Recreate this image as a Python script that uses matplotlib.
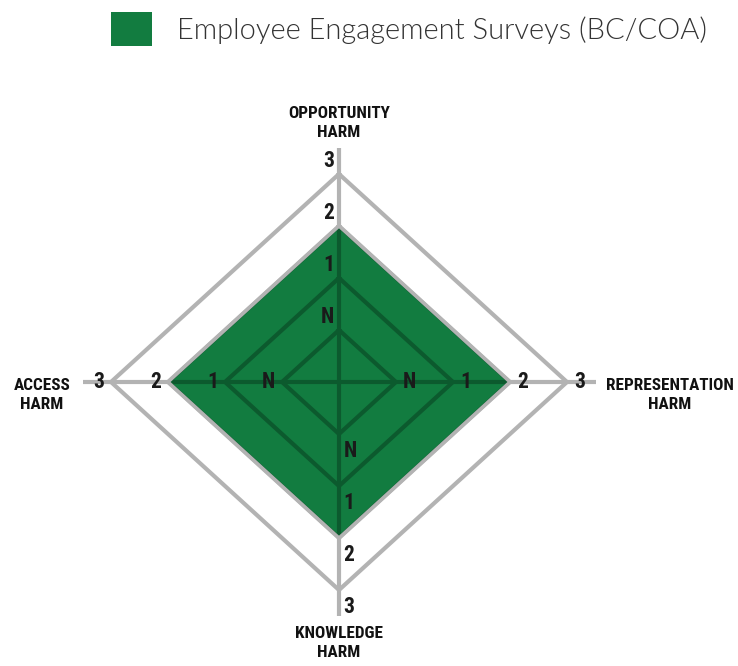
import matplotlib.pyplot as plt
import numpy as np
from matplotlib.patches import Polygon, Patch

# chart data
categories = ['OPPORTUNITY\nHARM', 'REPRESENTATION\nHARM', 'KNOWLEDGE\nHARM', 'ACCESS\nHARM']
level_labels = ['N', '1', '2', '3']
series_name = 'Employee Engagement Surveys (BC/COA)'
series_values = ['2', '2', '2', '2']

green = '#127c40'
dark_green = '#0c5a2e'
grey = '#b3b3b3'
lab_font = ['Roboto Condensed', 'Roboto', 'DejaVu Sans']

# directions: top, right, bottom, left
dirs = np.array([[0, 1], [1, 0], [0, -1], [-1, 0]])

def radius(lbl):
    return level_labels.index(lbl) + 1

fig = plt.figure(figsize=(7.38, 6.66), dpi=100)
ax = fig.add_axes([0, 0, 1, 1])
ax.set_xlim(-339 / 57, (738 - 339) / 57)
ax.set_ylim(-(666 - 382) / 52, 382 / 52)
ax.axis('off')

# spokes
for d in dirs:
    ax.plot([0, d[0] * 4.5], [0, d[1] * 4.5], color=grey, lw=3, zorder=1,
            solid_capstyle='butt')

# grid rings
rings = []
for r in range(1, len(level_labels) + 1):
    pts = dirs * r
    xs = list(pts[:, 0]) + [pts[0, 0]]
    ys = list(pts[:, 1]) + [pts[0, 1]]
    ax.plot(xs, ys, color=grey, lw=3, zorder=1, solid_joinstyle='miter')
    rings.append((xs, ys))

# data polygon
vals = np.array([radius(v) for v in series_values])
poly_pts = dirs * vals[:, None]
poly = Polygon(poly_pts, closed=True, facecolor=green, edgecolor='none', zorder=2)
ax.add_patch(poly)

# grid inside the fill drawn dark green
for d in dirs:
    ln, = ax.plot([0, d[0] * 4.5], [0, d[1] * 4.5], color=dark_green, lw=3,
                  zorder=3, solid_capstyle='butt')
    ln.set_clip_path(poly)
for xs, ys in rings:
    ln, = ax.plot(xs, ys, color=dark_green, lw=3, zorder=3, solid_joinstyle='miter')
    ln.set_clip_path(poly)
# outline of the data in grey
ax.add_patch(Polygon(poly_pts, closed=True, facecolor='none', edgecolor=grey,
                     lw=2.5, zorder=4, joinstyle='miter'))

# level labels on each spoke
tk = dict(fontsize=15.5, fontweight='bold', family=lab_font, color='#1a1a1a', zorder=5)
for i, lbl in enumerate(level_labels):
    r = i + 1
    ax.text(-0.08, r + 0.25, lbl, ha='right', va='center', **tk)
    ax.text(r + 0.12, 0, lbl, ha='left', va='center', **tk)
    ax.text(0.08, -r - 0.32, lbl, ha='left', va='center', **tk)
    ax.text(-r - 0.12, 0, lbl, ha='right', va='center', **tk)

# category labels
ck = dict(fontsize=12.3, fontweight='bold', family=lab_font, color='#111111',
          ha='center', va='center', linespacing=1.4)
ax.text(0, (382 - 123) / 52, categories[0], **ck)
ax.text((670 - 339) / 57, -0.25, categories[1], **ck)
ax.text(0, -(643 - 382) / 52, categories[2], **ck)
ax.text((42 - 339) / 57, -0.25, categories[3], **ck)

# legend
handle = Patch(facecolor=green, edgecolor='none')
ax.legend([handle], [series_name], loc='center', bbox_to_anchor=(409 / 738, 1 - 29 / 666),
          frameon=False, prop={'family': ['Lato', 'DejaVu Sans'], 'weight': 300, 'size': 21},
          handlelength=1.38, handleheight=1.38, handletextpad=0.85, borderpad=0)
for t in ax.get_legend().get_texts():
    t.set_color('#333333')

fig.savefig('out.png', dpi=100)
